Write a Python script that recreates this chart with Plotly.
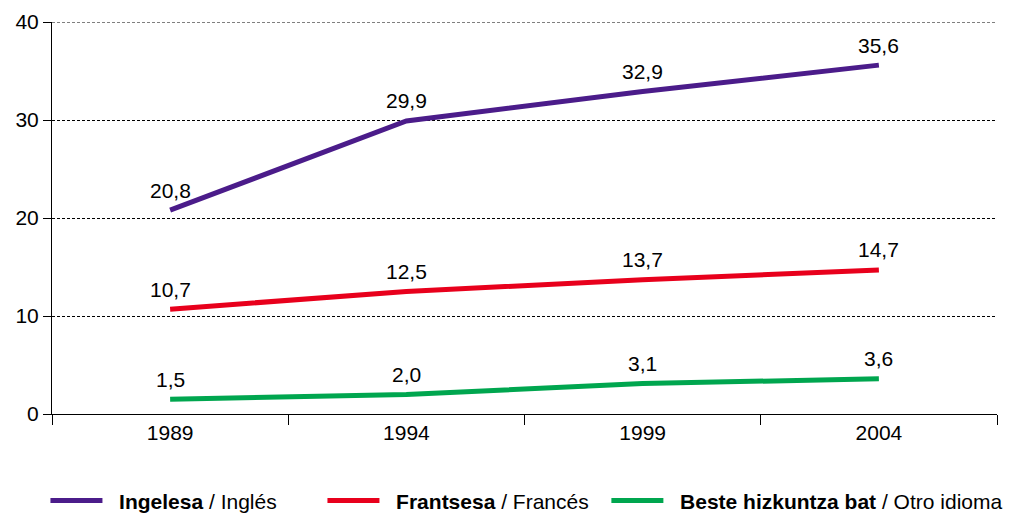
import plotly.graph_objects as go

years = ["1989", "1994", "1999", "2004"]
ingelesa = [20.8, 29.9, 32.9, 35.6]
frantsesa = [10.7, 12.5, 13.7, 14.7]
beste = [1.5, 2.0, 3.1, 3.6]
names = ["<b>Ingelesa</b> / Inglés", "<b>Frantsesa</b> / Francés", "<b>Beste hizkuntza bat</b> / Otro idioma"]
colors = ["#4B1C8A", "#E8001C", "#00A64F"]
series = [ingelesa, frantsesa, beste]

FONT = "Liberation Sans, Arial, sans-serif"
FS = 21
NB = "\u00a0\u00a0"
legend_ids = ["legend", "legend2", "legend3"]
legend_x = [0.0373, 0.3132, 0.596]

fig = go.Figure()
for vals, name, col, lid in zip(series, names, colors, legend_ids):
    fig.add_trace(go.Scatter(x=years, y=vals, mode="lines", name=NB + name,
                             line=dict(color=col, width=5), hoverinfo="skip",
                             legend=lid, showlegend=True))
    for i, v in enumerate(vals):
        fig.add_annotation(x=i, y=v, xref="x", yref="y",
                           text=f"{v:.1f}".replace(".", ","),
                           showarrow=False, yshift=20,
                           font=dict(family=FONT, size=FS, color="#000"))

# gridline at the top edge (Plotly clips grid at the plot edge)
fig.add_shape(type="line", xref="paper", yref="y", x0=0, x1=1, y0=40, y1=40,
              line=dict(color="#000", width=1, dash="3px,2px"), layer="below")

leg_common = dict(orientation="h", xref="container", yref="container",
                  y=0.024, xanchor="left", yanchor="middle", itemwidth=52,
                  font=dict(family=FONT, size=FS, color="#000"),
                  bgcolor="rgba(0,0,0,0)")
layout_legends = {lid: dict(leg_common, x=lx) for lid, lx in zip(legend_ids, legend_x)}

fig.update_layout(
    width=1004, height=505,
    margin=dict(l=44, r=15, t=14, b=99, autoexpand=False),
    plot_bgcolor="white", paper_bgcolor="white",
    font=dict(family=FONT, size=FS, color="#000"),
    showlegend=True,
    **layout_legends,
)
fig.update_xaxes(type="category", range=[-0.5, 3.5], showline=True, linecolor="#000",
                 linewidth=1, ticks="outside", tickson="boundaries", ticklen=10,
                 tickcolor="#000", showgrid=False, zeroline=False,
                 tickfont=dict(family=FONT, size=FS, color="#000"))
fig.update_yaxes(range=[0, 40], tickvals=[0, 10, 20, 30, 40], showline=True,
                 linecolor="#000", linewidth=1, ticks="outside", ticklen=8,
                 tickcolor="#000", showgrid=True, gridcolor="#000", gridwidth=1,
                 griddash="3px,2px", zeroline=False,
                 tickfont=dict(family=FONT, size=FS, color="#000"))

fig.write_html("out.html")
